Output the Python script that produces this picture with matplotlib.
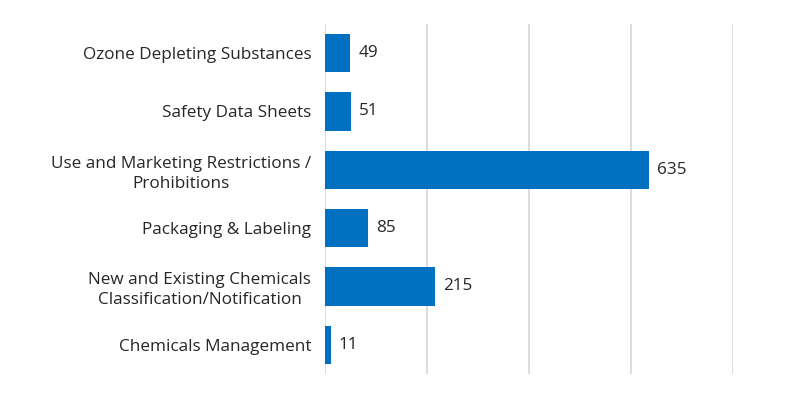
import matplotlib
matplotlib.use("Agg")
from matplotlib import pyplot as plt

categories = ["Chemicals Management",
              "New and Existing Chemicals\nClassification/Notification",
              "Packaging & Labeling",
              "Use and Marketing Restrictions /\nProhibitions",
              "Safety Data Sheets",
              "Ozone Depleting Substances"]
values = [11, 215, 85, 635, 51, 49]

plt.rcParams['font.family'] = ['Open Sans', 'DejaVu Sans']

fig = plt.figure(figsize=(7.92, 3.96), dpi=100)
ax = fig.add_axes([0.4104, 0.0556, 0.5151, 0.8838])

bars = ax.barh(range(len(values)), values, height=0.66, color="#0070C0", zorder=3)
for b, v in zip(bars, values):
    ax.text(b.get_width() + 16, b.get_y() + b.get_height() / 2, str(v),
            va="center", ha="left", fontsize=12.3, color="#262626")

ax.set_xlim(0, 800)
ax.set_ylim(-0.5, len(values) - 0.5)
ax.set_xticks([0, 200, 400, 600, 800])
ax.set_xticklabels([])
ax.set_yticks(range(len(values)))
ax.set_yticklabels(categories, fontsize=12.3, color="#262626", linespacing=1.32,
                   multialignment="center")
ax.tick_params(axis="both", length=0)
ax.tick_params(axis="y", pad=10)
ax.grid(axis="x", color="#D9D9D9", linewidth=1.3, zorder=0)
for s in ax.spines.values():
    s.set_visible(False)

fig.savefig("out.png", dpi=100)
